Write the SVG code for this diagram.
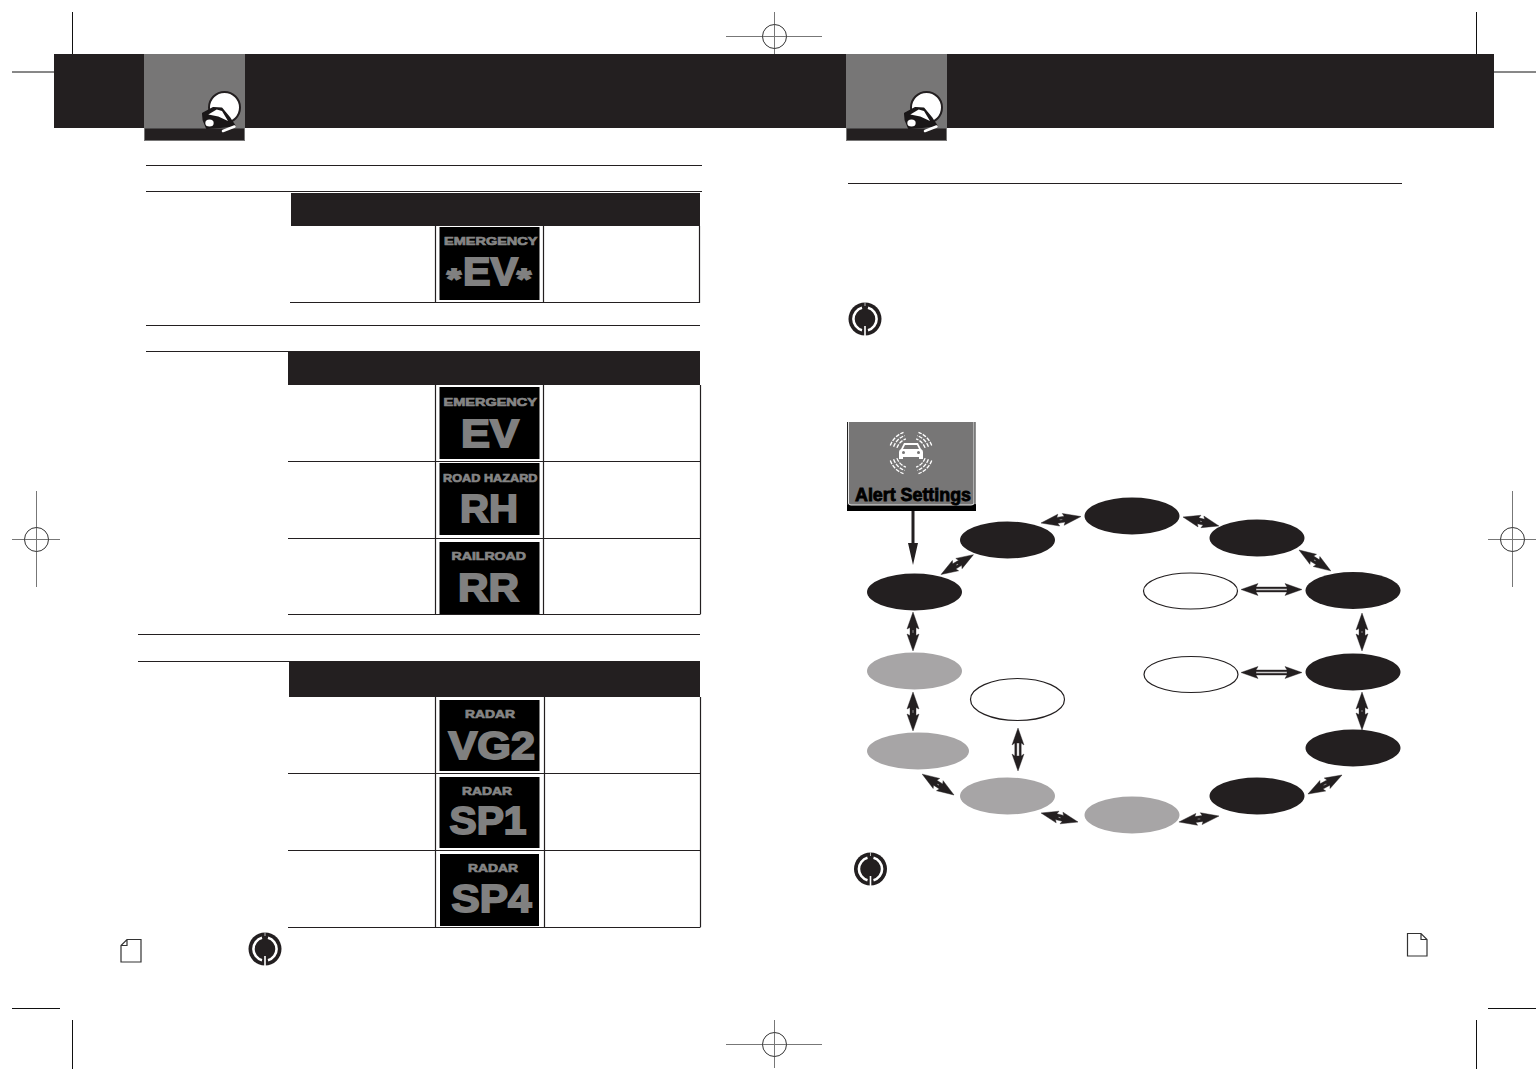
<svg xmlns="http://www.w3.org/2000/svg" width="1537" height="1069" viewBox="0 0 1537 1069">
<style>
.dark{fill:#231f20}
.mid{fill:#777676}
.rule{stroke:#231f20;stroke-width:1.2;fill:none}
.crop{stroke:#111;stroke-width:1;fill:none}
.reg{stroke:#777;stroke-width:1;fill:none}
.regc{stroke:#333;stroke-width:1;fill:none}
.lcd{fill:#000}
.sm{font-family:"Liberation Sans",Arial,sans-serif;font-weight:bold;font-size:11.500px;fill:#858585;stroke:#858585;stroke-width:.7}
.bg{font-family:"Liberation Sans",Arial,sans-serif;font-weight:bold;font-size:38px;fill:#808080;stroke:#808080;stroke-width:1.8}
.eb{fill:#231f20}
.eg{fill:#a7a5a6}
.ew{fill:#fff;stroke:#231f20;stroke-width:1.2}
.da{fill:#231f20;fill-rule:evenodd;stroke:#231f20;stroke-width:.4}
.page{fill:#fff;stroke:#333;stroke-width:1.2}
</style>
<defs>
<symbol id="cobra" overflow="visible">
<circle cx="80.500" cy="53.500" r="15.500" fill="#fff" stroke="#231f20" stroke-width="2"/>
<path d="M58.700 59.300L69.300 53.700L77.700 54.300L86 64.300L91 72L76 73.300L62.700 74.300L59.300 66Z" fill="#1a1718" stroke="#1a1718" stroke-width="1.500" stroke-linejoin="round"/>
<path d="M64.300 60.500L72.700 55.500L78 57L84 67L74.300 62.500Z" fill="#fff"/>
<ellipse cx="65.500" cy="69" rx="4.200" ry="3.500" fill="#fff"/>
<path d="M79 77L90.500 72.500" stroke="#fff" stroke-width="2.500" stroke-linecap="round"/>
</symbol>
<symbol id="info" overflow="visible">
<circle r="16.500" fill="#231f20"/>
<path d="M-3 -11.200A11.600 11.600 0 0 0 -3 11.200M3 -11.200A11.600 11.600 0 0 1 3 11.200" fill="none" stroke="#fff" stroke-width="2.600"/>
<path d="M0 7V17" stroke="#fff" stroke-width="1.600"/>
<path d="M0 -17V-13" stroke="#bbb" stroke-width="1"/>
</symbol>
<path id="q" d="M14.100 -5.100A15 15 0 0 0 5.100 -14.100M17.400 -6.300A18.500 18.500 0 0 0 6.300 -17.400M20.700 -7.500A22 22 0 0 0 7.500 -20.700" fill="none" stroke="#fff" stroke-width="1.300" stroke-dasharray="4 1.200"/>
</defs>

<g id="crop-marks">
<path class="crop" d="M72.500 12V60M12 72H60M1476.500 12V60M1488 72H1536M12 1008.500H60M72.500 1020V1069M1488 1008.500H1536M1476.500 1020V1069"/>
<path class="reg" d="M726 36.500H822M774.500 12V60M726 1044.500H822M774.500 1020V1068M12 539.500H60M36.500 491V587M1488 539.500H1536M1512.500 491V587"/>
<circle class="regc" cx="774.500" cy="36.500" r="12"/>
<circle class="regc" cx="774.500" cy="1044.500" r="12"/>
<circle class="regc" cx="36.500" cy="539.500" r="12"/>
<circle class="regc" cx="1512.500" cy="539.500" r="12"/>
</g>

<g id="header-left">
<rect class="dark" x="54" y="54" width="791" height="74"/>
<rect class="mid" x="144" y="54" width="101" height="74"/>
<rect class="dark" x="144.500" y="128" width="100" height="12.500" stroke="#777676"/>
<use href="#cobra" x="144" y="54"/>
</g>
<g id="header-right">
<rect class="dark" x="845" y="54" width="649" height="74"/>
<rect class="mid" x="846" y="54" width="101" height="74"/>
<rect class="dark" x="846.500" y="128" width="100" height="12.500" stroke="#777676"/>
<use href="#cobra" x="846" y="54"/>
</g>

<g id="rules">
<path class="rule" d="M146 165.500H702M146 191.500H702M146 325.500H700M146 351.500H700M138 634.500H700M138 661.500H700M848 183.500H1402"/>
</g>

<g id="table-1">
<rect class="dark" x="291" y="193" width="409" height="33"/>
<path class="rule" d="M290 302.500H699.500V226M435.500 226V302M543.500 226V302"/>
<rect class="lcd" x="439.500" y="227" width="100" height="73"/>
<text class="sm" x="444" y="245" textLength="93.500" lengthAdjust="spacingAndGlyphs">EMERGENCY</text>
<text class="bg" x="463" y="285" textLength="55" lengthAdjust="spacingAndGlyphs">EV</text>
<text class="bg" x="447" y="288" style="font-size:28px" textLength="14" lengthAdjust="spacingAndGlyphs">*</text>
<text class="bg" x="517" y="288" style="font-size:28px" textLength="14" lengthAdjust="spacingAndGlyphs">*</text>
</g>

<g id="table-2">
<rect class="dark" x="288" y="351" width="412" height="34"/>
<path class="rule" d="M288 461.500H700.500M288 538.500H700.500M288 614.500H700.500M700.500 385V614M435.500 385V614M543.500 385V614"/>
<rect class="lcd" x="439.500" y="387" width="100" height="72"/>
<text class="sm" x="443.500" y="405.500" textLength="93.500" lengthAdjust="spacingAndGlyphs">EMERGENCY</text>
<text class="bg" x="461" y="446.500" textLength="58" lengthAdjust="spacingAndGlyphs">EV</text>
<rect class="lcd" x="439.500" y="463" width="100" height="72"/>
<text class="sm" x="443" y="481.500" textLength="94.500" lengthAdjust="spacingAndGlyphs">ROAD HAZARD</text>
<text class="bg" x="460" y="521.500" textLength="58" lengthAdjust="spacingAndGlyphs">RH</text>
<rect class="lcd" x="439.500" y="542" width="100" height="72"/>
<text class="sm" x="451.500" y="560" textLength="74.500" lengthAdjust="spacingAndGlyphs">RAILROAD</text>
<text class="bg" x="458" y="601" textLength="61" lengthAdjust="spacingAndGlyphs">RR</text>
</g>

<g id="table-3">
<rect class="dark" x="289" y="661" width="411" height="36"/>
<path class="rule" d="M288 773.500H700.500M288 850.500H700.500M288 927.500H700.500M700.500 697V927M435.500 697V927M544.500 697V927"/>
<rect class="lcd" x="439.500" y="700" width="100" height="71"/>
<text class="sm" x="465" y="718" textLength="50" lengthAdjust="spacingAndGlyphs">RADAR</text>
<text class="bg" x="448.500" y="758.500" textLength="86.500" lengthAdjust="spacingAndGlyphs">VG2</text>
<rect class="lcd" x="439.500" y="777" width="100" height="71"/>
<text class="sm" x="462" y="794.500" textLength="50" lengthAdjust="spacingAndGlyphs">RADAR</text>
<text class="bg" x="449.500" y="833.500" textLength="77" lengthAdjust="spacingAndGlyphs">SP1</text>
<rect class="lcd" x="440" y="854" width="99" height="72"/>
<text class="sm" x="468" y="872" textLength="50" lengthAdjust="spacingAndGlyphs">RADAR</text>
<text class="bg" x="451.500" y="911.500" textLength="80" lengthAdjust="spacingAndGlyphs">SP4</text>
</g>

<g id="page-left"><path class="page" d="M127 939.500H141V962H121V945.500Z M127 939.500V945.500H121"/></g>
<g id="page-right"><path class="page" d="M1407.500 933.500H1421L1427 939.500V956H1407.500Z M1421 933.500V939.500H1427"/></g>
<g id="note-1"><use href="#info" x="865" y="319"/></g>
<g id="note-2"><use href="#info" x="870.500" y="869"/></g>
<g id="note-3"><use href="#info" x="265" y="949"/></g>

<g id="alert-settings">
<rect x="847" y="504" width="129" height="7" fill="#000"/>
<path d="M848 422H974.500V503Q974.500 505 972 505H850Q848 505 848 503Z" fill="#777676"/>
<path d="M848.500 422V503Q848.500 505 851 505H971Q974 505 974 503V422" fill="none" stroke="#e8e8e8" stroke-width="1"/>
<path d="M847.500 422V505M975 422V505" stroke="#222" stroke-width="1" fill="none"/>
<g transform="translate(911 453)">
<use href="#q"/>
<use href="#q" transform="scale(-1 1)"/>
<use href="#q" transform="scale(1 -1)"/>
<use href="#q" transform="scale(-1 -1)"/>
</g>
<path d="M904 443H918L921 449Q923 450 923 452V459H919V457H903V459H899V452Q899 450 901 449Z" fill="#fff"/>
<path d="M905 445H917L919 449H903Z" fill="#777676"/>
<circle cx="903.500" cy="452.500" r="1.500" fill="#777676"/><circle cx="918.500" cy="452.500" r="1.500" fill="#777676"/>
<text x="855" y="500.500" font-family="'Liberation Sans',Arial,sans-serif" font-weight="bold" font-size="18" fill="#000" stroke="#000" stroke-width=".8" textLength="116" lengthAdjust="spacingAndGlyphs">Alert Settings</text>
</g>

<g id="node-1"><ellipse class="eb" cx="914.500" cy="592" rx="47.500" ry="18.500"/></g>
<g id="node-2"><ellipse class="eb" cx="1007.500" cy="540" rx="47.500" ry="18.500"/></g>
<g id="node-3"><ellipse class="eb" cx="1132" cy="516" rx="47.500" ry="18.500"/></g>
<g id="node-4"><ellipse class="eb" cx="1257" cy="538" rx="47.500" ry="18.500"/></g>
<g id="node-5"><ellipse class="eb" cx="1353" cy="590.500" rx="47.500" ry="18.500"/></g>
<g id="node-6"><ellipse class="eb" cx="1353" cy="672" rx="47.500" ry="18.500"/></g>
<g id="node-7"><ellipse class="eb" cx="1353" cy="748" rx="47.500" ry="18.500"/></g>
<g id="node-8"><ellipse class="eb" cx="1257" cy="796" rx="47.500" ry="18.500"/></g>
<g id="node-9"><ellipse class="eg" cx="1132" cy="815" rx="47.500" ry="18.500"/></g>
<g id="node-10"><ellipse class="eg" cx="1007.500" cy="796" rx="47.500" ry="18.500"/></g>
<g id="node-11"><ellipse class="eg" cx="918" cy="751" rx="51" ry="18.500"/></g>
<g id="node-12"><ellipse class="eg" cx="914.500" cy="671" rx="47.500" ry="18.500"/></g>
<g id="node-13"><ellipse class="ew" cx="1190.500" cy="591" rx="47" ry="18"/></g>
<g id="node-14"><ellipse class="ew" cx="1191" cy="674.500" rx="47" ry="18"/></g>
<g id="node-15"><ellipse class="ew" cx="1017.500" cy="699.500" rx="47" ry="21"/></g>

<g id="connectors">
<path d="M911.500 511H914.500V543H918L913 565L908 543H911.500Z" fill="#231f20"/>
<path class="da" transform="translate(941 574.500) rotate(-31.400)" d="M0 0L17 -6L15.500 -3H22.500L21 -6L38 0L21 6L22.500 3H15.500L17 6Z M18 -.4H20V.4H18Z"/>
<path class="da" transform="translate(1041 523) rotate(-9.200)" d="M0 0L18 -6L16.500 -3H24L22.500 -6L40.500 0L22.500 6L24 3H16.500L18 6Z M19 -.4H21.500V.4H19Z"/>
<path class="da" transform="translate(1183 517) rotate(14)" d="M0 0L17 -6L15.500 -3H21.500L20 -6L37 0L20 6L21.500 3H15.500L17 6Z M17.500 -.4H19.500V.4H17.500Z"/>
<path class="da" transform="translate(1299 550) rotate(33.300)" d="M0 0L17 -6L15.500 -3H22.500L21 -6L38 0L21 6L22.500 3H15.500L17 6Z M18 -.4H20V.4H18Z"/>
<path class="da" transform="translate(1362 613) rotate(90)" d="M0 0L17 -6L15.500 -3H22.500L21 -6L38 0L21 6L22.500 3H15.500L17 6Z M18 -.4H20V.4H18Z"/>
<path class="da" transform="translate(1362 692) rotate(90)" d="M0 0L17 -6L15.500 -3H22.500L21 -6L38 0L21 6L22.500 3H15.500L17 6Z M18 -.4H20V.4H18Z"/>
<path class="da" transform="translate(1342 775) rotate(150.800)" d="M0 0L17 -6L15.500 -3H23.500L22 -6L39 0L22 6L23.500 3H15.500L17 6Z M18 -.4H21V.4H18Z"/>
<path class="da" transform="translate(1219 816) rotate(171.500)" d="M0 0L18 -6L16.500 -3H24L22.500 -6L40.500 0L22.500 6L24 3H16.500L18 6Z M19 -.4H21.500V.4H19Z"/>
<path class="da" transform="translate(1078 822) rotate(193.700)" d="M0 0L17 -6L15.500 -3H22.500L21 -6L38 0L21 6L22.500 3H15.500L17 6Z M18 -.4H20V.4H18Z"/>
<path class="da" transform="translate(954 795) rotate(213.300)" d="M0 0L17 -6L15.500 -3H22.500L21 -6L38 0L21 6L22.500 3H15.500L17 6Z M18 -.4H20V.4H18Z"/>
<path class="da" transform="translate(913 692) rotate(90)" d="M0 0L17 -6L15.500 -3H23.500L22 -6L39 0L22 6L23.500 3H15.500L17 6Z M18 -.4H21V.4H18Z"/>
<path class="da" transform="translate(913 612) rotate(90)" d="M0 0L17 -6L15.500 -3H23.500L22 -6L39 0L22 6L23.500 3H15.500L17 6Z M18 -.4H21V.4H18Z"/>
<path class="da" transform="translate(1241 589.500)" d="M0 0L17 -6L15 -2.500H46L44 -6L61 0L44 6L46 2.500H15L17 6Z M15 -.7H46V.7H15Z"/>
<path class="da" transform="translate(1241 672.500)" d="M0 0L17 -6L15 -2.500H46L44 -6L61 0L44 6L46 2.500H15L17 6Z M15 -.7H46V.7H15Z"/>
<path class="da" transform="translate(1018 728) rotate(90)" d="M0 0L17 -6L15 -3.200H28L26 -6L43 0L26 6L28 3.200H15L17 6Z M15 -1.200H28V1.200H15Z"/>
</g>
</svg>
